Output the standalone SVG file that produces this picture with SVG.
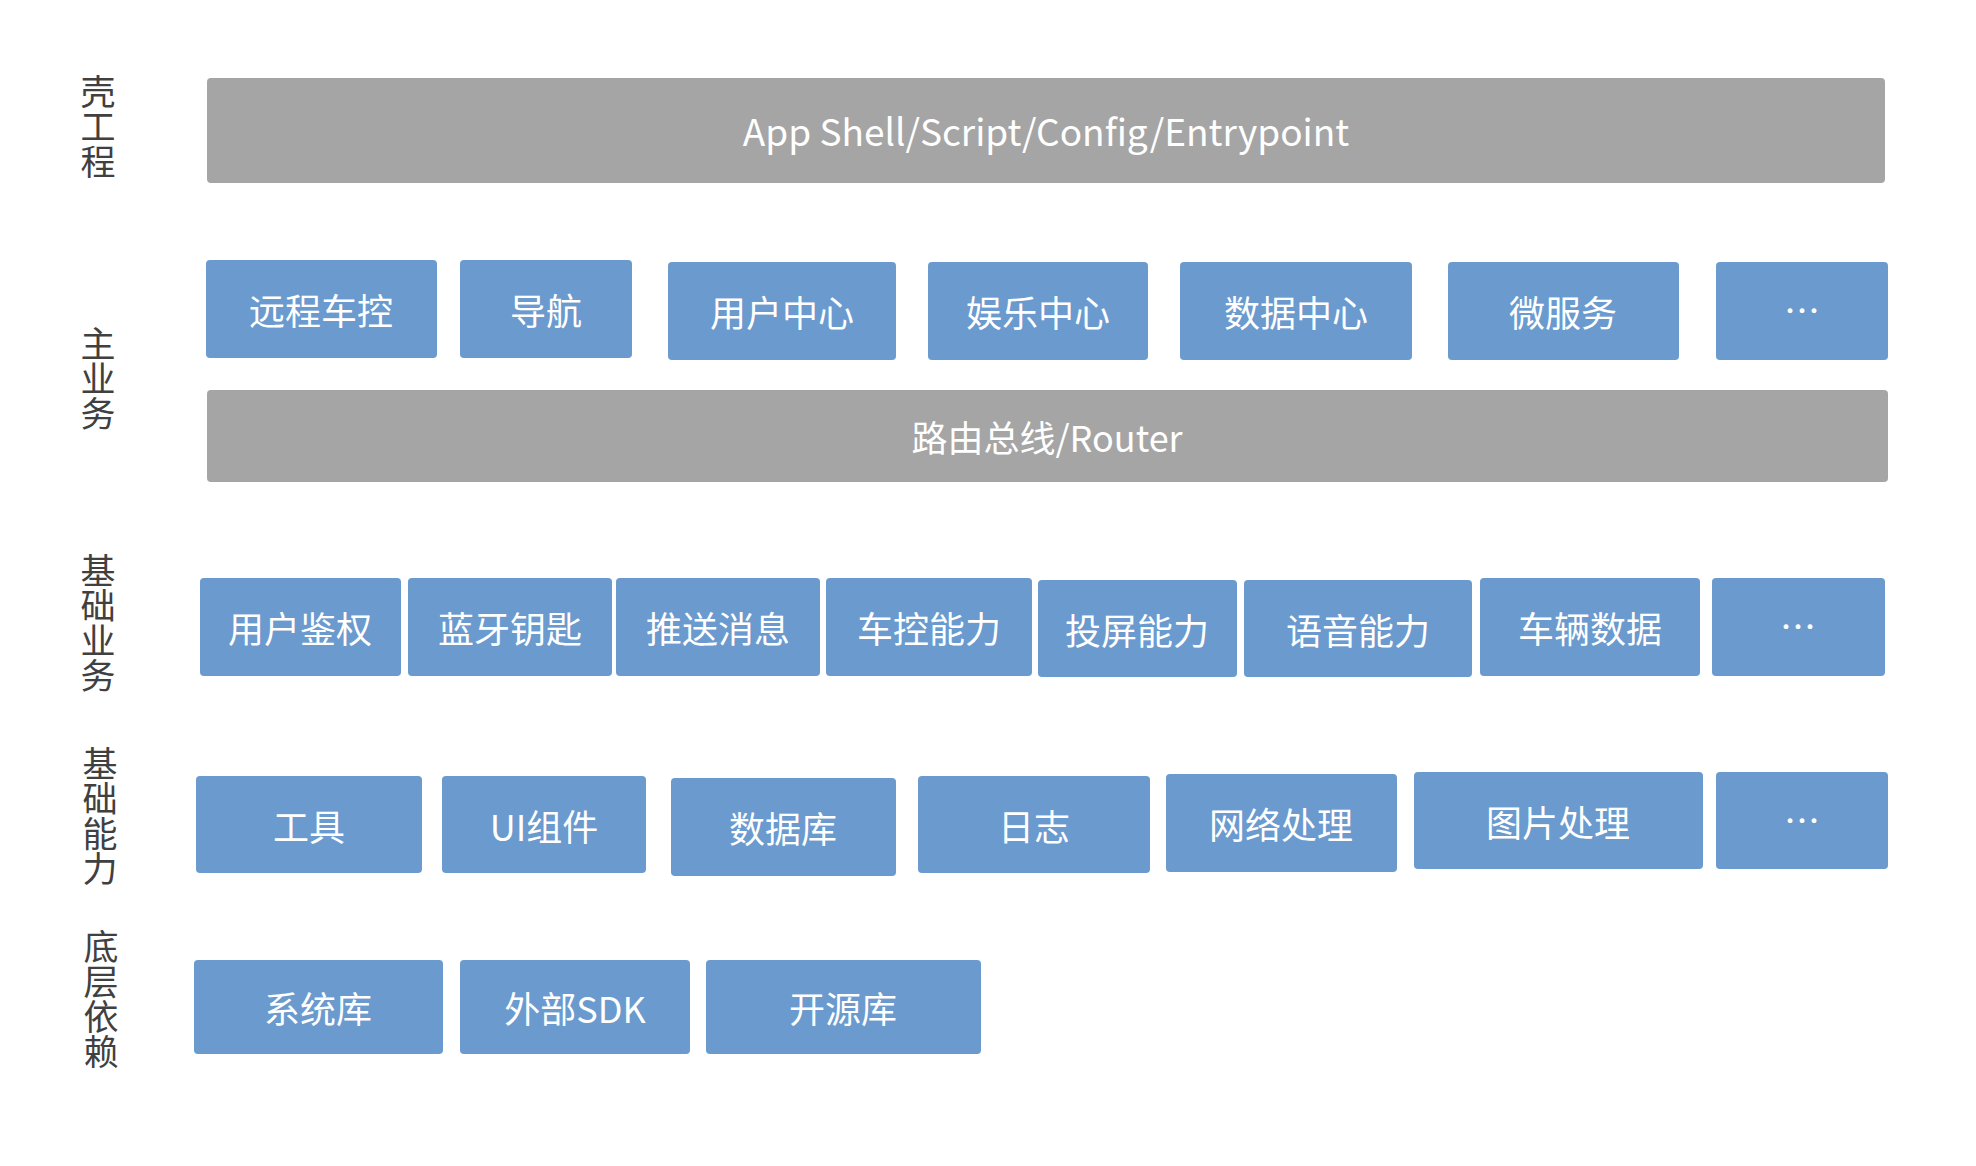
<svg xmlns="http://www.w3.org/2000/svg" width="1976" height="1166" viewBox="0 0 1976 1166">
<style>
.bg{fill:#ffffff}
.box{fill:#6A9ACE}
.bar{fill:#A5A5A5}
.t{fill:#ffffff;font-family:"Noto Sans CJK SC","Noto Sans",sans-serif;font-size:36px;text-anchor:middle;dominant-baseline:central}
.big{font-size:37px}
.lbl{fill:#404040;font-family:"Noto Sans CJK SC",sans-serif;font-size:35px;writing-mode:vertical-rl;text-anchor:start}
</style>
<rect class="bg" x="0" y="0" width="1976" height="1166"/>
<g id="labels">
<text class="lbl" x="98" y="74">壳工程</text>
<text class="lbl" x="98" y="326">主业务</text>
<text class="lbl" x="98" y="553">基础业务</text>
<text class="lbl" x="100" y="746">基础能力</text>
<text class="lbl" x="101" y="929">底层依赖</text>
</g>
<g id="shell"><rect class="bar" x="207" y="78" width="1678" height="105" rx="4"/><text class="t big" x="1046" y="130">App Shell/Script/Config/Entrypoint</text></g>
<g id="remote"><rect class="box" x="206" y="260" width="231" height="98" rx="4"/><text class="t" x="321" y="309">远程车控</text></g>
<g id="nav"><rect class="box" x="460" y="260" width="172" height="98" rx="4"/><text class="t" x="546" y="309">导航</text></g>
<g id="usercenter"><rect class="box" x="668" y="262" width="228" height="98" rx="4"/><text class="t" x="782" y="311">用户中心</text></g>
<g id="ent"><rect class="box" x="928" y="262" width="220" height="98" rx="4"/><text class="t" x="1038" y="311">娱乐中心</text></g>
<g id="datacenter"><rect class="box" x="1180" y="262" width="232" height="98" rx="4"/><text class="t" x="1296" y="311">数据中心</text></g>
<g id="micro"><rect class="box" x="1448" y="262" width="231" height="98" rx="4"/><text class="t" x="1563" y="311">微服务</text></g>
<g id="more1"><rect class="box" x="1716" y="262" width="172" height="98" rx="4"/><text class="t" x="1802" y="309">…</text></g>
<g id="router"><rect class="bar" x="207" y="390" width="1681" height="92" rx="4"/><text class="t" x="1047" y="436">路由总线/Router</text></g>
<g id="auth"><rect class="box" x="200" y="578" width="201" height="98" rx="4"/><text class="t" x="300" y="627">用户鉴权</text></g>
<g id="btkey"><rect class="box" x="408" y="578" width="204" height="98" rx="4"/><text class="t" x="510" y="627">蓝牙钥匙</text></g>
<g id="push"><rect class="box" x="616" y="578" width="204" height="98" rx="4"/><text class="t" x="718" y="627">推送消息</text></g>
<g id="carctl"><rect class="box" x="826" y="578" width="206" height="98" rx="4"/><text class="t" x="929" y="627">车控能力</text></g>
<g id="cast"><rect class="box" x="1038" y="580" width="199" height="97" rx="4"/><text class="t" x="1137" y="629">投屏能力</text></g>
<g id="voice"><rect class="box" x="1244" y="580" width="228" height="97" rx="4"/><text class="t" x="1358" y="629">语音能力</text></g>
<g id="vehdata"><rect class="box" x="1480" y="578" width="220" height="98" rx="4"/><text class="t" x="1590" y="627">车辆数据</text></g>
<g id="more2"><rect class="box" x="1712" y="578" width="173" height="98" rx="4"/><text class="t" x="1798" y="625">…</text></g>
<g id="tools"><rect class="box" x="196" y="776" width="226" height="97" rx="4"/><text class="t" x="309" y="825">工具</text></g>
<g id="ui"><rect class="box" x="442" y="776" width="204" height="97" rx="4"/><text class="t" x="544" y="825">UI组件</text></g>
<g id="db"><rect class="box" x="671" y="778" width="225" height="98" rx="4"/><text class="t" x="783" y="827">数据库</text></g>
<g id="log"><rect class="box" x="918" y="776" width="232" height="97" rx="4"/><text class="t" x="1034" y="825">日志</text></g>
<g id="net"><rect class="box" x="1166" y="774" width="231" height="98" rx="4"/><text class="t" x="1281" y="823">网络处理</text></g>
<g id="img"><rect class="box" x="1414" y="772" width="289" height="97" rx="4"/><text class="t" x="1558" y="821">图片处理</text></g>
<g id="more3"><rect class="box" x="1716" y="772" width="172" height="97" rx="4"/><text class="t" x="1802" y="819">…</text></g>
<g id="syslib"><rect class="box" x="194" y="960" width="249" height="94" rx="4"/><text class="t" x="318" y="1007">系统库</text></g>
<g id="sdk"><rect class="box" x="460" y="960" width="230" height="94" rx="4"/><text class="t" x="575" y="1007">外部SDK</text></g>
<g id="oss"><rect class="box" x="706" y="960" width="275" height="94" rx="4"/><text class="t" x="843" y="1007">开源库</text></g>
<g id="connectors"></g>
</svg>
